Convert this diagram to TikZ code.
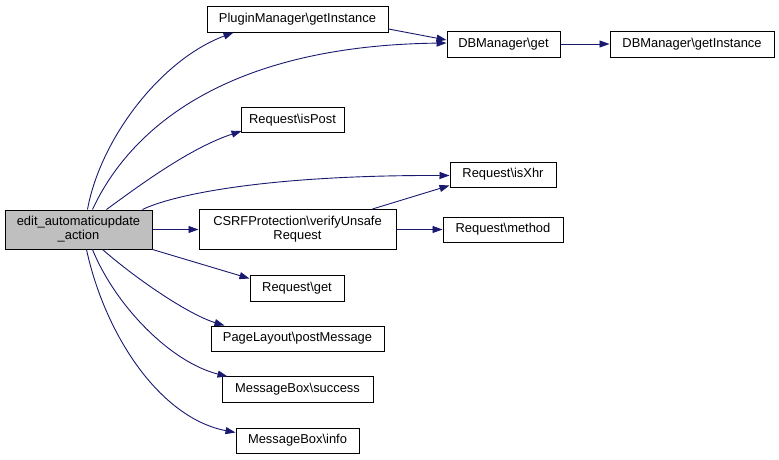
\documentclass[tikz,border=0pt]{standalone}
\usepackage{fontspec}
\setmainfont{Liberation Sans}
\usetikzlibrary{arrows.meta,calc}
\definecolor{edgec}{HTML}{191970}
\definecolor{mainfill}{HTML}{BFBFBF}
\tikzset{
  box/.style={draw=black, line width=1pt, fill=white, inner sep=0pt, align=center,
    font=\fontsize{12.9}{14}\selectfont},
  edge/.style={draw=edgec, line width=0.9pt, -{Triangle[length=10pt,width=7pt]}, shorten >=0pt},
}
\newcommand{\bx}[6]{\node[box,#6, minimum width=#3pt, minimum height=#4pt] (#1) at (#2) {#5};}
\begin{document}
\begin{tikzpicture}[x=1pt,y=-1pt]
\useasboundingbox (0,0) rectangle (779,459);
\bx{main}{78.5,229.5}{147}{39}{edit\_automaticupdate\\\_action}{fill=mainfill}
\bx{plugin}{297.5,19}{181}{26}{PluginManager\textbackslash getInstance}{}
\bx{ispost}{292.5,120}{103}{25}{Request\textbackslash isPost}{}
\bx{csrf}{297.5,229.5}{197}{40}{CSRFProtection\textbackslash verifyUnsafe\\Request}{}
\bx{dbget}{503.5,44}{113}{26}{DBManager\textbackslash get}{}
\bx{dbinst}{692,44}{164}{26}{DBManager\textbackslash getInstance}{}
\bx{isxhr}{503,174.5}{106}{25}{Request\textbackslash isXhr}{}
\bx{method}{503,229.5}{120}{25}{Request\textbackslash method}{}
\bx{reqget}{297,288}{94}{26}{Request\textbackslash get}{}
\bx{page}{297.5,338.5}{173}{25}{PageLayout\textbackslash postMessage}{}
\bx{success}{297.5,389}{151}{26}{MessageBox\textbackslash success}{}
\bx{info}{297.5,440.5}{123}{25}{MessageBox\textbackslash info}{}

% edges from main
\draw[edge] ($(main.north west)+(83,0)$) .. controls (100,140) and (160,60) .. ($(plugin.south west)+(27,0)$);
\draw[edge] ($(main.north west)+(88,0)$) .. controls (120,150) and (200,46) .. ($(dbget.west)+(0,-1)$);
\draw[edge] ($(main.north west)+(102,0)$) .. controls (140,185) and (190,148) .. ($(ispost.south west)+(1,-2)$);
\draw[edge] ($(main.north west)+(138,0)$) .. controls (170,196) and (260,175) .. ($(isxhr.west)+(0,1)$);
\draw[edge] (main.east) -- (csrf.west);
\draw[edge] (main.south east) -- ($(reqget.north west)+(0,4)$);
\draw[edge] ($(main.south west)+(98,0)$) .. controls (140,282) and (190,315) .. ($(page.north west)+(14,0)$);
\draw[edge] ($(main.south west)+(88,0)$) .. controls (115,305) and (170,362) .. ($(success.north west)+(6,1)$);
\draw[edge] ($(main.south west)+(82,0)$) .. controls (105,335) and (160,418) .. ($(info.west)+(0,-8)$);
% other edges
\draw[edge] ($(plugin.east)+(0,10)$) -- ($(dbget.west)+(0,-4)$);
\draw[edge] (dbget.east) -- (dbinst.west);
\draw[edge] ($(csrf.north east)+(-24,0)$) -- ($(isxhr.south west)+(0,-2)$);
\draw[edge] (csrf.east) -- (method.west);
\end{tikzpicture}
\end{document}
